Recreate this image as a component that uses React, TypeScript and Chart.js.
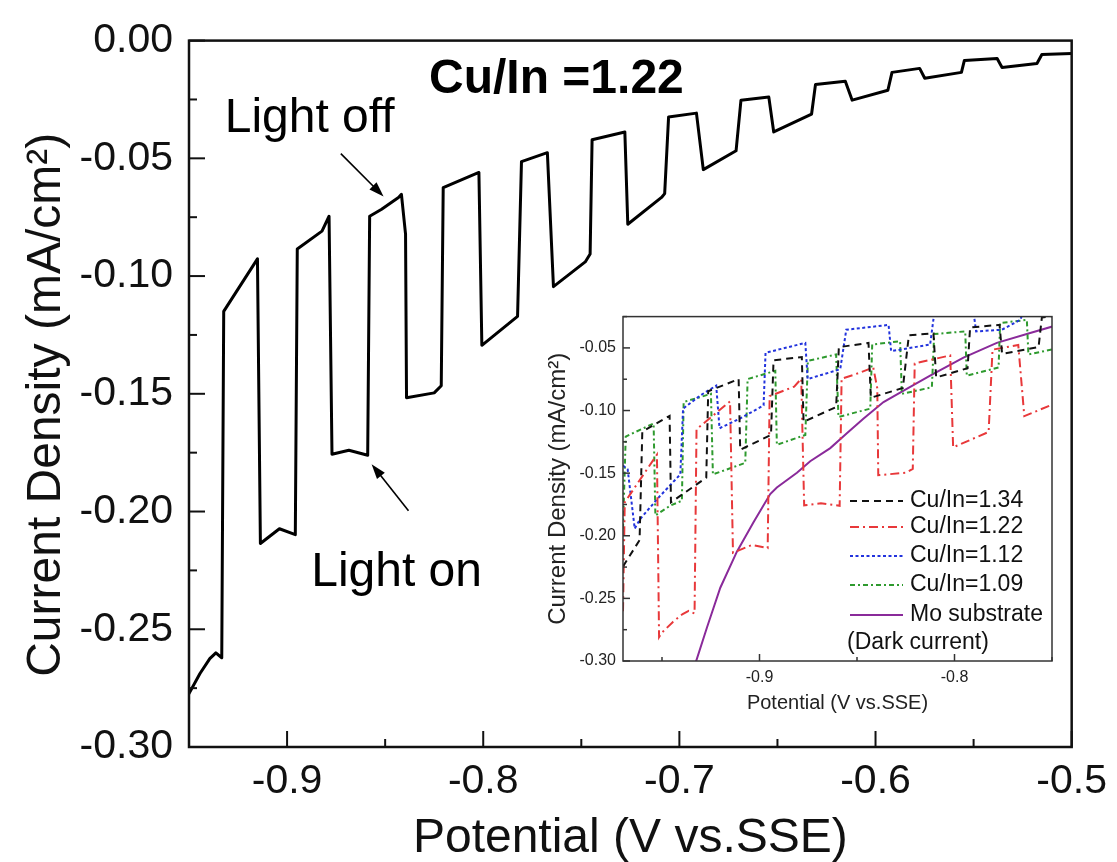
import React, { useEffect, useRef } from 'react';
import { Chart, registerables } from 'chart.js';

Chart.register(...registerables);

const FONT = "'Liberation Sans', Arial, Helvetica, sans-serif";

// ---------- main chart data (Cu/In = 1.22, chopped light) ----------
const MAIN_X = [
  -0.9500, -0.9444, -0.9394, -0.9363, -0.9333, -0.9323, -0.9151, -0.9136, -0.9039, -0.8958,
  -0.8948, -0.8822, -0.8786, -0.8771, -0.8685, -0.8589, -0.8579, -0.8518, -0.8432, -0.8417,
  -0.8396, -0.8391, -0.8250, -0.8214, -0.8204, -0.8022, -0.8007, -0.7825, -0.7805, -0.7673,
  -0.7642, -0.7480, -0.7455, -0.7445, -0.7278, -0.7263, -0.7091, -0.7075, -0.7055, -0.6913,
  -0.6878, -0.6711, -0.6686, -0.6544, -0.6519, -0.6326, -0.6306, -0.6154, -0.6119, -0.5937,
  -0.5916, -0.5775, -0.5749, -0.5562, -0.5547, -0.5380, -0.5355, -0.5177, -0.5152, -0.5000,
];
const MAIN_Y = [
  -0.2773, -0.2688, -0.2625, -0.2600, -0.2621, -0.1150, -0.0927, -0.2136, -0.2073, -0.2098,
  -0.0885, -0.0809, -0.0746, -0.1757, -0.1740, -0.1761, -0.0746, -0.0716, -0.0666, -0.0653,
  -0.0822, -0.1517, -0.1496, -0.1466, -0.0624, -0.0560, -0.1294, -0.1171, -0.0514, -0.0476,
  -0.1045, -0.0940, -0.0906, -0.0421, -0.0388, -0.0780, -0.0666, -0.0650, -0.0324, -0.0308,
  -0.0548, -0.0468, -0.0253, -0.0240, -0.0388, -0.0312, -0.0186, -0.0173, -0.0253, -0.0211,
  -0.0135, -0.0118, -0.0160, -0.0135, -0.0084, -0.0076, -0.0114, -0.0097, -0.0059, -0.0055,
];

const MAIN_X_TICKS = [-0.9, -0.8, -0.7, -0.6, -0.5];
const MAIN_X_TICK_LABELS = ['-0.9', '-0.8', '-0.7', '-0.6', '-0.5'];
const MAIN_X_MINOR = [-0.95, -0.85, -0.75, -0.65, -0.55];
const MAIN_Y_TICKS = [-0.3, -0.25, -0.2, -0.15, -0.1, -0.05, 0];
const MAIN_Y_TICK_LABELS = ['-0.30', '-0.25', '-0.20', '-0.15', '-0.10', '-0.05', '0.00'];
const MAIN_Y_MINOR = [-0.275, -0.225, -0.175, -0.125, -0.075, -0.025];

const MAIN_X_TITLE = 'Potential (V vs.SSE)';
const MAIN_Y_TITLE = 'Current Density (mA/cm\u00B2)';
const MAIN_LABEL = 'Cu/In =1.22';
const LIGHT_OFF = 'Light off';
const LIGHT_ON = 'Light on';

// ---------- inset data ----------
const INSET_RED_PRE_X = [-0.9700, -0.9691, -0.9526, -0.9515];
const INSET_RED_PRE_Y = [-0.2602, -0.1733, -0.1352, -0.2809];

const CU134_X = [
  -0.9700, -0.9615, -0.9601, -0.9461, -0.9454, -0.9273, -0.9263, -0.9107, -0.9099, -0.8941,
  -0.8928, -0.8783, -0.8774, -0.8607, -0.8593, -0.8441, -0.8429, -0.8265, -0.8234, -0.8108,
  -0.8094, -0.7933, -0.7920, -0.7769, -0.7756, -0.7569, -0.7552, -0.7493,
];
const CU134_Y = [
  -0.2245, -0.2035, -0.1169, -0.1043, -0.1733, -0.1536, -0.0846, -0.0749, -0.1313, -0.1195,
  -0.0599, -0.0573, -0.1090, -0.0972, -0.0494, -0.0460, -0.0898, -0.0820, -0.0400, -0.0384,
  -0.0736, -0.0662, -0.0337, -0.0316, -0.0547, -0.0494, -0.0258, -0.0245,
];

const CU112_X = [
  -0.9700, -0.9676, -0.9640, -0.9611, -0.9517, -0.9406, -0.9392, -0.9304, -0.9222, -0.9205,
  -0.9099, -0.8979, -0.8969, -0.8765, -0.8753, -0.8586, -0.8555, -0.8338, -0.8325, -0.8125,
  -0.8104, -0.7903, -0.7889, -0.7757, -0.7663, -0.7646,
];
const CU112_Y = [
  -0.1439, -0.1470, -0.1943, -0.1864, -0.1694, -0.1510, -0.0985, -0.0880, -0.0801, -0.1142,
  -0.1063, -0.0959, -0.0539, -0.0460, -0.0749, -0.0670, -0.0355, -0.0316, -0.0526, -0.0473,
  -0.0224, -0.0211, -0.0368, -0.0355, -0.0276, -0.0211,
];

const CU109_X = [
  -0.9700, -0.9686, -0.9543, -0.9534, -0.9457, -0.9398, -0.9389, -0.9249, -0.9239, -0.9073,
  -0.9061, -0.8919, -0.8911, -0.8765, -0.8752, -0.8607, -0.8595, -0.8432, -0.8422, -0.8279,
  -0.8270, -0.8116, -0.8104, -0.7945, -0.7937, -0.7774, -0.7766, -0.7629, -0.7621, -0.7498,
];
const CU109_Y = [
  -0.1943, -0.1208, -0.1103, -0.1838, -0.1759, -0.1720, -0.0932, -0.0867, -0.1510, -0.1418,
  -0.0749, -0.0683, -0.1274, -0.1195, -0.0604, -0.0552, -0.1051, -0.0985, -0.0473, -0.0447,
  -0.0867, -0.0814, -0.0389, -0.0368, -0.0722, -0.0657, -0.0302, -0.0276, -0.0552, -0.0512,
];

const MO_X = [
  -0.9334, -0.9269, -0.9201, -0.9116, -0.9030, -0.8945, -0.8911, -0.8808, -0.8740, -0.8637,
  -0.8552, -0.8466, -0.8364, -0.8261, -0.8125, -0.7954, -0.7783, -0.7612, -0.7498,
];
const MO_Y = [
  -0.3045, -0.2730, -0.2415, -0.2127, -0.1890, -0.1667, -0.1615, -0.1497, -0.1405, -0.1300,
  -0.1182, -0.1064, -0.0932, -0.0841, -0.0722, -0.0578, -0.0460, -0.0381, -0.0329,
];

const INSET_X_TICKS = [-0.9, -0.8];
const INSET_X_TICK_LABELS = ['-0.9', '-0.8'];
const INSET_X_MINOR = [-0.95, -0.85, -0.75];
const INSET_Y_TICKS = [-0.3, -0.25, -0.2, -0.15, -0.1, -0.05];
const INSET_Y_TICK_LABELS = ['-0.30', '-0.25', '-0.20', '-0.15', '-0.10', '-0.05'];
const INSET_Y_MINOR = [-0.275, -0.225, -0.175, -0.125, -0.075, -0.025];

const SERIES_LABELS = ['Cu/In=1.34', 'Cu/In=1.22', 'Cu/In=1.12', 'Cu/In=1.09', 'Mo substrate'];
const LEGEND_NOTE = '(Dark current)';

const pts = (xs: number[], ys: number[]) => xs.map((x, i) => ({ x, y: ys[i] }));

function makeFramePlugin(id: string, cfg: any) {
  return {
    id,
    afterDraw(chart: any) {
      const { ctx, chartArea: a, scales } = chart;
      const xs = scales.x;
      const ys = scales.y;
      ctx.save();
      ctx.strokeStyle = cfg.color;
      ctx.lineWidth = cfg.tickWidth;
      ctx.lineCap = 'butt';
      const seg = (x1: number, y1: number, x2: number, y2: number) => {
        ctx.beginPath();
        ctx.moveTo(x1, y1);
        ctx.lineTo(x2, y2);
        ctx.stroke();
      };
      cfg.xMajor.forEach((v: number) => {
        const p = xs.getPixelForValue(v);
        seg(p, a.bottom, p, a.bottom - cfg.major);
      });
      cfg.xMinor.forEach((v: number) => {
        const p = xs.getPixelForValue(v);
        seg(p, a.bottom, p, a.bottom - cfg.minor);
      });
      cfg.yMajor.forEach((v: number) => {
        const p = ys.getPixelForValue(v);
        seg(a.left, p, a.left + cfg.major, p);
      });
      cfg.yMinor.forEach((v: number) => {
        const p = ys.getPixelForValue(v);
        seg(a.left, p, a.left + cfg.minor, p);
      });
      ctx.lineWidth = cfg.frameWidth;
      ctx.strokeRect(a.left, a.top, a.right - a.left, a.bottom - a.top);
      ctx.restore();
    },
  };
}

const annotPlugin = {
  id: 'annot',
  afterDatasetsDraw(chart: any) {
    const { ctx, scales, chartArea } = chart;
    const px = (v: number) => scales.x.getPixelForValue(v);
    const py = (v: number) => scales.y.getPixelForValue(v);
    ctx.save();
    ctx.fillStyle = '#000';
    ctx.textBaseline = 'alphabetic';
    ctx.font = `bold 48px ${FONT}`;
    ctx.textAlign = 'center';
    ctx.fillText(MAIN_LABEL, px(-0.7627), py(-0.0223));
    ctx.font = `48px ${FONT}`;
    ctx.textAlign = 'left';
    ctx.fillText(LIGHT_OFF, px(-0.9318), py(-0.0388));
    ctx.fillText(LIGHT_ON, px(-0.8877), py(-0.2317));

    // y-axis title (rotated)
    ctx.save();
    ctx.fillStyle = '#111';
    ctx.font = `48px ${FONT}`;
    ctx.textAlign = 'center';
    ctx.textBaseline = 'middle';
    ctx.translate(47, (chartArea.top + chartArea.bottom) / 2 + 11);
    ctx.rotate(-Math.PI / 2);
    ctx.fillText(MAIN_Y_TITLE, 0, 0);
    ctx.restore();

    const arrow = (x1: number, y1: number, x2: number, y2: number) => {
      const X1 = px(x1), Y1 = py(y1), X2 = px(x2), Y2 = py(y2);
      const ang = Math.atan2(Y2 - Y1, X2 - X1);
      const len = 15, half = 5;
      ctx.strokeStyle = '#000';
      ctx.lineWidth = 1.6;
      ctx.beginPath();
      ctx.moveTo(X1, Y1);
      ctx.lineTo(X2 - Math.cos(ang) * len * 0.8, Y2 - Math.sin(ang) * len * 0.8);
      ctx.stroke();
      ctx.beginPath();
      ctx.moveTo(X2, Y2);
      ctx.lineTo(X2 - Math.cos(ang) * len - Math.sin(ang) * half, Y2 - Math.sin(ang) * len + Math.cos(ang) * half);
      ctx.lineTo(X2 - Math.cos(ang) * len + Math.sin(ang) * half, Y2 - Math.sin(ang) * len - Math.cos(ang) * half);
      ctx.closePath();
      ctx.fill();
    };
    arrow(-0.8726, -0.0480, -0.8508, -0.0662);
    arrow(-0.8381, -0.1997, -0.8569, -0.1799);
    ctx.restore();
  },
};

const insetLegendPlugin = {
  id: 'insetLegend',
  afterDraw(chart: any) {
    const { ctx } = chart;
    const rows = [201, 227, 256, 285, 315];
    ctx.save();
    ctx.font = `23px ${FONT}`;
    ctx.fillStyle = '#111';
    ctx.textBaseline = 'middle';
    ctx.textAlign = 'left';
    chart.data.datasets.forEach((ds: any, i: number) => {
      const y = rows[i];
      ctx.strokeStyle = ds.borderColor;
      ctx.lineWidth = ds.borderWidth;
      ctx.setLineDash(ds.borderDash || []);
      ctx.beginPath();
      ctx.moveTo(305, y);
      ctx.lineTo(358, y);
      ctx.stroke();
      ctx.setLineDash([]);
      ctx.fillText(ds.label, 365, y);
    });
    ctx.fillText(LEGEND_NOTE, 302, 343);
    ctx.restore();
  },
};

function axisTicks(values: number[]) {
  return (scale: any) => {
    scale.ticks = values.map((v) => ({ value: v }));
  };
}

export default function App() {
  const mainRef = useRef<HTMLCanvasElement | null>(null);
  const insetRef = useRef<HTMLCanvasElement | null>(null);

  useEffect(() => {
    if (!mainRef.current || !insetRef.current) return;

    const mainChart = new Chart(mainRef.current, {
      type: 'line',
      data: {
        datasets: [
          {
            label: MAIN_LABEL,
            data: pts(MAIN_X, MAIN_Y),
            borderColor: '#000',
            borderWidth: 3,
            pointRadius: 0,
            tension: 0,
            fill: false,
            borderJoinStyle: 'round',
            borderCapStyle: 'round',
          },
        ],
      },
      options: {
        responsive: false,
        animation: false,
        events: [],
        layout: { padding: { left: 0, top: 35, right: 39, bottom: 0 } },
        plugins: { legend: { display: false }, tooltip: { enabled: false } },
        scales: {
          x: {
            type: 'linear',
            min: -0.95,
            max: -0.5,
            afterBuildTicks: axisTicks(MAIN_X_TICKS),
            afterFit: (s: any) => {
              s.height = 115;
            },
            grid: { display: false, drawTicks: false },
            border: { display: false },
            ticks: {
              font: { family: FONT, size: 41 },
              color: '#111',
              padding: 10,
              maxRotation: 0,
              autoSkip: false,
              callback: (_v: any, i: number) => MAIN_X_TICK_LABELS[i],
            },
            title: {
              display: true,
              text: MAIN_X_TITLE,
              font: { family: FONT, size: 48 },
              color: '#111',
              padding: { top: 0, bottom: -6 },
            },
          },
          y: {
            type: 'linear',
            min: -0.3,
            max: 0,
            afterBuildTicks: axisTicks(MAIN_Y_TICKS),
            afterFit: (s: any) => {
              s.width = 189;
            },
            grid: { display: false, drawTicks: false },
            border: { display: false },
            ticks: {
              font: { family: FONT, size: 41 },
              color: '#111',
              padding: 16,
              autoSkip: false,
              callback: (_v: any, i: number) => MAIN_Y_TICK_LABELS[i],
            },
            title: { display: false },
          },
        },
      },
      plugins: [
        makeFramePlugin('mainFrame', {
          color: '#111',
          tickWidth: 2,
          frameWidth: 2.5,
          major: 16,
          minor: 8,
          xMajor: MAIN_X_TICKS,
          xMinor: MAIN_X_MINOR,
          yMajor: MAIN_Y_TICKS,
          yMinor: MAIN_Y_MINOR,
        }),
        annotPlugin,
      ],
    } as any);

    const base = { pointRadius: 0, tension: 0, fill: false, borderWidth: 2 };
    const insetChart = new Chart(insetRef.current, {
      type: 'line',
      data: {
        datasets: [
          { ...base, label: SERIES_LABELS[0], data: pts(CU134_X, CU134_Y), borderColor: '#111111', borderDash: [7, 5] },
          {
            ...base,
            label: SERIES_LABELS[1],
            data: pts(INSET_RED_PRE_X.concat(MAIN_X), INSET_RED_PRE_Y.concat(MAIN_Y)),
            borderColor: '#e8383a',
            borderDash: [9, 4, 2, 4],
          },
          { ...base, label: SERIES_LABELS[2], data: pts(CU112_X, CU112_Y), borderColor: '#2233dd', borderDash: [3, 2.5] },
          { ...base, label: SERIES_LABELS[3], data: pts(CU109_X, CU109_Y), borderColor: '#2e9a2e', borderDash: [5, 3, 2, 3] },
          { ...base, label: SERIES_LABELS[4], data: pts(MO_X, MO_Y), borderColor: '#8a2a9a' },
        ],
      },
      options: {
        responsive: false,
        animation: false,
        events: [],
        layout: { padding: { left: 0, top: 12, right: 8, bottom: 0 } },
        plugins: { legend: { display: false }, tooltip: { enabled: false } },
        scales: {
          x: {
            type: 'linear',
            min: -0.97,
            max: -0.75,
            afterBuildTicks: axisTicks(INSET_X_TICKS),
            afterFit: (s: any) => {
              s.height = 57;
            },
            grid: { display: false, drawTicks: false },
            border: { display: false },
            ticks: {
              font: { family: FONT, size: 16 },
              color: '#222',
              padding: 7,
              maxRotation: 0,
              autoSkip: false,
              callback: (_v: any, i: number) => INSET_X_TICK_LABELS[i],
            },
            title: {
              display: true,
              text: MAIN_X_TITLE,
              font: { family: FONT, size: 20 },
              color: '#222',
              padding: { top: 0, bottom: 3 },
            },
          },
          y: {
            type: 'linear',
            min: -0.3,
            max: -0.025,
            afterBuildTicks: axisTicks(INSET_Y_TICKS),
            afterFit: (s: any) => {
              s.width = 78;
            },
            grid: { display: false, drawTicks: false },
            border: { display: false },
            ticks: {
              font: { family: FONT, size: 16 },
              color: '#222',
              padding: 7,
              autoSkip: false,
              callback: (_v: any, i: number) => INSET_Y_TICK_LABELS[i],
            },
            title: {
              display: true,
              text: MAIN_Y_TITLE,
              font: { family: FONT, size: 24, lineHeight: 1 },
              color: '#222',
              padding: { top: 1, bottom: 0 },
            },
          },
        },
      },
      plugins: [
        makeFramePlugin('insetFrame', {
          color: '#333',
          tickWidth: 1.5,
          frameWidth: 1.5,
          major: 7,
          minor: 4,
          xMajor: INSET_X_TICKS,
          xMinor: INSET_X_MINOR,
          yMajor: INSET_Y_TICKS,
          yMinor: INSET_Y_MINOR,
        }),
        insetLegendPlugin,
      ],
    } as any);

    return () => {
      mainChart.destroy();
      insetChart.destroy();
    };
  }, []);

  return (
    <div style={{ position: 'absolute', left: 0, top: 0, width: 1117, height: 862, background: '#fff' }}>
      <canvas
        ref={mainRef}
        width={1117}
        height={862}
        style={{ position: 'absolute', left: 0, top: 0, width: 1117, height: 862 }}
      />
      <canvas
        ref={insetRef}
        width={515}
        height={418}
        style={{ position: 'absolute', left: 545, top: 300, width: 515, height: 418, background: '#fff' }}
      />
    </div>
  );
}
